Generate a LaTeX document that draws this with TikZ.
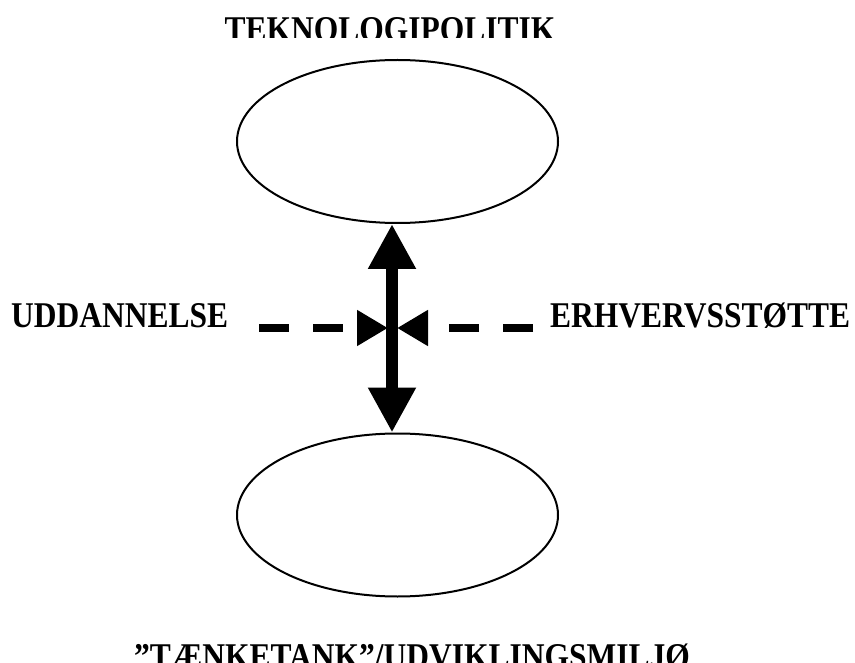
\documentclass[tikz,border=0pt]{standalone}
\usepackage{fontspec}
\setmainfont{Liberation Serif}
\usetikzlibrary{arrows.meta,shapes.geometric,calc}
\tikzset{
  blob/.style={draw, ellipse, line width=2pt, inner sep=0pt, minimum width=321pt, minimum height=163pt},
  lbl/.style={inner sep=0pt, font=\fontsize{31.5}{36}\selectfont\bfseries},
  bigarrow/.style={line width=12pt, {Triangle[width=45pt,length=45pt]}-{Triangle[width=45pt,length=45pt]}},
  dasharrow/.style={line width=8pt, dash pattern=on 30pt off 24pt, -{Triangle[width=34pt,length=31pt]}}
}
\newcommand{\tallr}[1]{\scalebox{1}[1.15]{#1}}
\begin{document}
\begin{tikzpicture}[x=1pt,y=-1pt]
\useasboundingbox (0,0) rectangle (855,663);
\begin{scope}
\clip (0,0) rectangle (855,38);
\node[lbl, anchor=base] (title) at (390,42) {\tallr{TEKNOLOGIPOLITIK}};
\end{scope}
\node[blob] (top) at (397.5,141.5) {};
\node[blob] (bot) at (397.5,515) {};
\node[lbl, anchor=base west] (ud) at (11,327) {\tallr{UDDANNELSE}};
\node[lbl, anchor=base west] (er) at (550,327) {\tallr{ERHVERVSSTØTTE}};
\node[lbl, anchor=base] (tank) at (412,668) {\tallr{”TÆNKETANK”/UDVIKLINGSMILJØ}};
\draw[bigarrow] ($(top.south)+(-5.5,0)$) -- ($(bot.north)+(-5.5,0)$);
\coordinate (ls) at (259,328);
\coordinate (rs) at (533,328);
\coordinate (cl) at (388,328);
\coordinate (cr) at (397,328);
\draw[dasharrow] (ls) -- (cl);
\draw[dasharrow] (rs) -- (cr);
\end{tikzpicture}
\end{document}
